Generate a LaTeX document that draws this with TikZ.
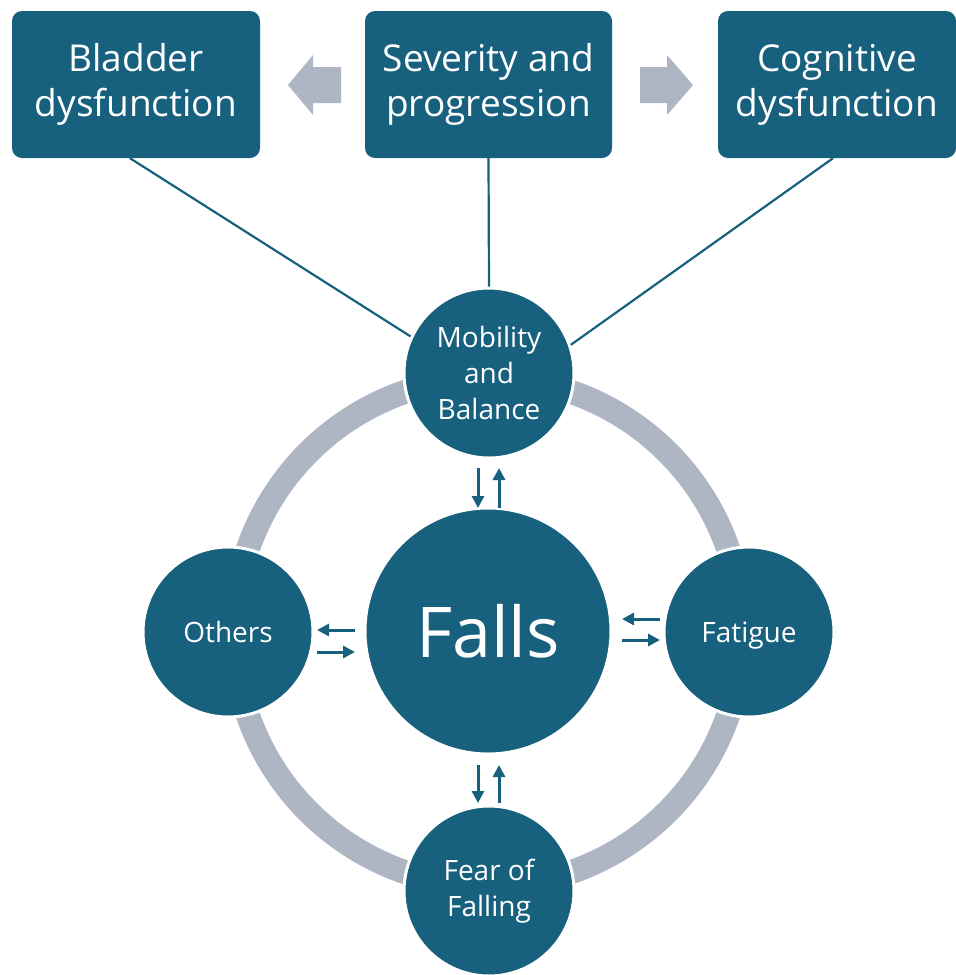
\documentclass[tikz,border=0pt]{standalone}
\usepackage{fontspec}
\setmainfont{Open Sans}
\usetikzlibrary{arrows.meta}
\definecolor{navy}{HTML}{17607E}
\definecolor{ringgray}{HTML}{ADB6C2}
\begin{document}
\begin{tikzpicture}[x=1pt,y=-1pt,
  box/.style={fill=navy, rounded corners=10pt, minimum height=147pt, text=white, align=center, font=\fontsize{37}{45}\selectfont, inner sep=0pt},
  bubble/.style={circle, fill=navy, draw=white, line width=3pt, minimum size=170pt, text=white, align=center, font=\fontsize{28}{36}\selectfont, inner sep=0pt},
  oneline/.style={text height=20pt, text depth=0pt},
  link/.style={draw=navy, line width=2.2pt},
  flow/.style={draw=navy, line width=3pt, -{Triangle[length=12pt,width=12pt]}},
  blockarrow/.style={fill=ringgray}]
\useasboundingbox (0,0) rectangle (956,975);
% ring
\node[circle, draw=ringgray, line width=24pt, minimum size=508pt, inner sep=0pt] (ring) at (488,632) {};
% top boxes
\node[box, minimum width=248pt] (bladder) at (136,84.5) {Bladder\\dysfunction};
\node[box, minimum width=247pt] (sev) at (488.5,84.5) {Severity and\\progression};
\node[box, minimum width=238pt] (cog) at (837,84.5) {Cognitive\\dysfunction};
% block arrows
\fill[blockarrow] (288,85) -- (313,55) -- (313,67) -- (341,67) -- (341,103) -- (313,103) -- (313,115) -- cycle;
\fill[blockarrow] (693,85) -- (667,55) -- (667,67) -- (640,67) -- (640,103) -- (667,103) -- (667,115) -- cycle;
% circles
\node[bubble] (mob) at (489,373) {Mobility\\and\\Balance};
\node[bubble, minimum size=246pt, font=\fontsize{70}{84}\selectfont] (falls) at (488,631) {Falls};
\node[bubble, oneline] (others) at (228,632) {Others};
\node[bubble, oneline] (fatigue) at (749,632) {Fatigue};
\node[bubble] (fear) at (489,891) {Fear of\\Falling};
% links
\draw[link] ([xshift=-6pt]bladder.south) -- (mob.155);
\draw[link] (sev.south) -- (mob.north);
\draw[link] ([xshift=-4pt]cog.south) -- (mob.19);
% small arrows
\coordinate (ma) at (478,468); \coordinate (mb) at (478,508);
\coordinate (mc) at (499,508); \coordinate (md) at (499,468);
\draw[flow] (ma) -- (mb);
\draw[flow] (mc) -- (md);
\coordinate (oa) at (355,630); \coordinate (ob) at (317,630);
\coordinate (oc) at (317,652); \coordinate (od) at (355,652);
\draw[flow] (oa) -- (ob);
\draw[flow] (oc) -- (od);
\coordinate (fa) at (660,619); \coordinate (fb) at (622,619);
\coordinate (fc) at (622,640); \coordinate (fd) at (660,640);
\draw[flow] (fa) -- (fb);
\draw[flow] (fc) -- (fd);
\coordinate (ea) at (478,765); \coordinate (eb) at (478,803);
\coordinate (ec) at (499,803); \coordinate (ed) at (499,765);
\draw[flow] (ea) -- (eb);
\draw[flow] (ec) -- (ed);
\end{tikzpicture}
\end{document}
